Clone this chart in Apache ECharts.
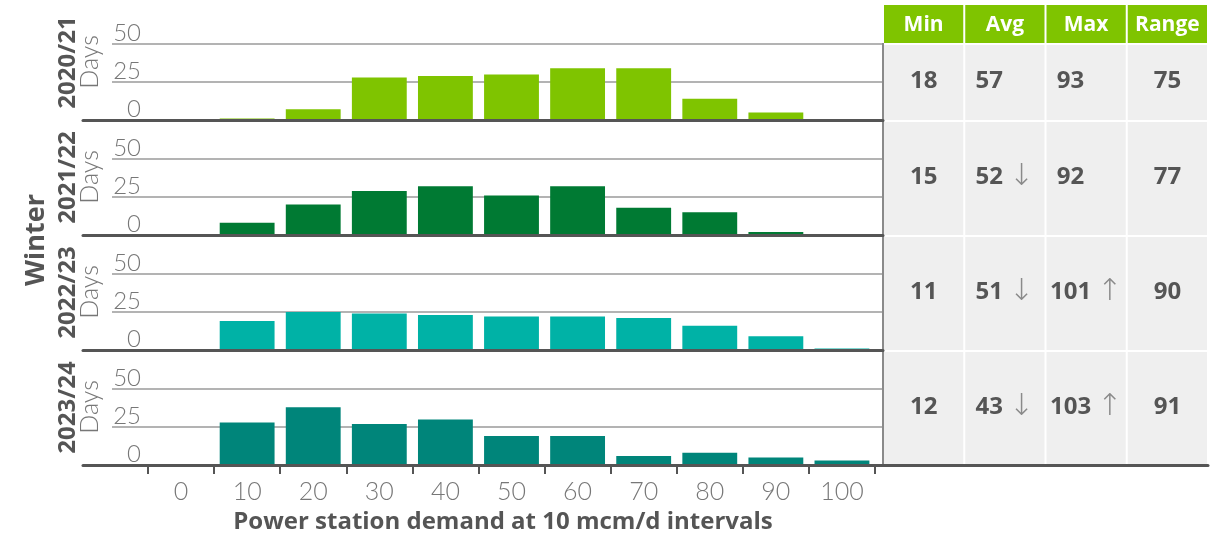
<!DOCTYPE html>
<html>
<head>
<meta charset="utf-8">
<script src="https://cdn.jsdelivr.net/npm/echarts@6/dist/echarts.min.js"></script>
<style>
  html, body { margin: 0; padding: 0; background: #ffffff; }
  #chart { width: 1222px; height: 536px; }
</style>
</head>
<body>
<div id="chart"></div>
<script>
// Demand bins (mcm/d, lower bound of each 10 mcm/d interval)
const bins = ['0', '10', '20', '30', '40', '50', '60', '70', '80', '90', '100'];
const seasons = ['2020/21', '2021/22', '2022/23', '2023/24'];

// Number of winter days falling in each demand bin
const days2020 = [0, 1, 7, 28, 29, 30, 34, 34, 14, 5, 0];
const days2021 = [0, 8, 20, 29, 32, 26, 32, 18, 15, 2, 0];
const days2022 = [0, 19, 25, 24, 23, 22, 22, 21, 16, 9, 1];
const days2023 = [0, 28, 38, 27, 30, 19, 19, 6, 8, 5, 3];
const seasonDays = [days2020, days2021, days2022, days2023];

// Summary statistics per winter (mcm/d)
const statHeaders = ['Min', 'Avg', 'Max', 'Range'];
const minVals = [18, 15, 11, 12];
const avgVals = [57, 52, 51, 43];
const maxVals = [93, 92, 101, 103];
const rangeVals = [75, 77, 90, 91];
const avgTrend = ['', 'down', 'down', 'down'];
const maxTrend = ['', '', 'up', 'up'];

const yTicks = [0, 25, 50];

const colors = ['#7fc400', '#007a33', '#00b2a6', '#00857a'];
const BOLD_FONT = '"Open Sans", Lato, sans-serif';
const LIGHT_FONT = 'Lato, "Open Sans", sans-serif';
const ARROW_FONT = '"DejaVu Sans", sans-serif';
const DARK = '#555555';
const MID = '#777777';

// Layout
const PANEL_TOP = 5;
const PANEL_H = 115;
const PLOT_H = 76;
const BAR_LEFT = 148, BAR_W = 727;
const GRIDLINE_LEFT = 112, PANEL_RIGHT = 883;
const AXIS_LEFT = 83;
const TABLE_LEFT = 883, TABLE_W = 325;
const HEADER_H = 38, GAP = 2;

const grids = [], xAxes = [], yAxes = [], series = [];

seasons.forEach((season, i) => {
  const base = PANEL_TOP + PANEL_H * (i + 1);
  const last = i === seasons.length - 1;
  const gA = grids.length;
  // bar area
  grids.push({ left: BAR_LEFT, width: BAR_W, top: base - PLOT_H, height: PLOT_H, outerBoundsMode: 'none' });
  // gridline area
  grids.push({ left: GRIDLINE_LEFT, width: PANEL_RIGHT - GRIDLINE_LEFT, top: base - PLOT_H, height: PLOT_H, outerBoundsMode: 'none' });
  // full panel (baseline + season label)
  grids.push({ left: AXIS_LEFT, width: (last ? TABLE_LEFT + TABLE_W : PANEL_RIGHT) - AXIS_LEFT, top: base - PANEL_H, height: PANEL_H, outerBoundsMode: 'none' });

  // bar axes
  xAxes.push({
    gridIndex: gA, type: 'category', data: bins, show: last,
    boundaryGap: true,
    axisLine: { show: true, lineStyle: { color: DARK, width: 3 } },
    axisTick: { show: true, length: 9, lineStyle: { color: DARK, width: 2 } },
    axisLabel: { show: true, fontSize: 25, color: MID, fontWeight: 300, fontFamily: LIGHT_FONT, margin: 14, lineHeight: 25 },
    name: last ? 'Power station demand at 10 mcm/d intervals' : '',
    nameLocation: 'middle', nameGap: 45,
    nameTextStyle: { fontSize: 24, fontWeight: 'bold', color: DARK, fontFamily: BOLD_FONT, lineHeight: 24, padding: [0, 17, 0, 0] }
  });
  yAxes.push({
    gridIndex: gA, type: 'value', min: 0, max: 50, interval: 25,
    axisLine: { show: false }, axisTick: { show: false }, splitLine: { show: false },
    axisLabel: {
      show: true, fontSize: 24, color: MID, fontWeight: 300, fontFamily: LIGHT_FONT,
      margin: 7, verticalAlign: 'bottom', lineHeight: 22,
      formatter: v => yTicks.indexOf(v) >= 0 ? String(v) : ''
    },
    name: 'Days', nameLocation: 'middle', nameRotate: 90, nameGap: 41,
    nameTextStyle: { fontSize: 25, color: MID, fontWeight: 300, fontFamily: LIGHT_FONT, lineHeight: 24, padding: [0, 0, 0, 40] }
  });

  // gridline axes
  xAxes.push({ gridIndex: gA + 1, type: 'value', show: false });
  yAxes.push({
    gridIndex: gA + 1, type: 'value', min: 0, max: 50, interval: 25,
    axisLine: { show: false }, axisTick: { show: false }, axisLabel: { show: false },
    splitLine: { show: true, lineStyle: { color: '#9a9a9a', width: 1.5 } }
  });

  // baseline + season label axes
  xAxes.push({
    gridIndex: gA + 2, type: 'value', show: true, z: 10,
    axisLine: { show: true, lineStyle: { color: DARK, width: 3 } },
    axisTick: { show: false }, axisLabel: { show: false }, splitLine: { show: false }
  });
  yAxes.push({
    gridIndex: gA + 2, type: 'value', show: true,
    axisLine: { show: false }, axisTick: { show: false }, axisLabel: { show: false }, splitLine: { show: false },
    name: season, nameLocation: 'middle', nameRotate: 90, nameGap: 3,
    nameTextStyle: { fontSize: 24, fontWeight: 'bold', color: DARK, fontFamily: BOLD_FONT, lineHeight: 23 }
  });

  series.push({
    type: 'bar', name: season, xAxisIndex: gA, yAxisIndex: gA,
    data: seasonDays[i], barCategoryGap: '17%',
    itemStyle: { color: colors[i] },
    silent: true, z: 3
  });
});

// Outer "Winter" label spanning all panels
const gW = grids.length;
grids.push({ left: AXIS_LEFT, width: PANEL_RIGHT - AXIS_LEFT, top: PANEL_TOP, height: PANEL_H * 4, outerBoundsMode: 'none' });
xAxes.push({ gridIndex: gW, type: 'value', show: false });
yAxes.push({
  gridIndex: gW, type: 'value', show: true,
  axisLine: { show: false }, axisTick: { show: false }, axisLabel: { show: false }, splitLine: { show: false },
  name: 'Winter', nameLocation: 'middle', nameRotate: 90, nameGap: 34,
  nameTextStyle: { fontSize: 27, fontWeight: 'bold', color: DARK, fontFamily: BOLD_FONT, lineHeight: 26, padding: [0, 10, 0, 0] }
});

// Statistics table
const gT = grids.length;
grids.push({ left: TABLE_LEFT, width: TABLE_W, top: PANEL_TOP, height: PANEL_H * 4, outerBoundsMode: 'none' });
xAxes.push({ gridIndex: gT, type: 'category', data: statHeaders, show: false });
yAxes.push({ gridIndex: gT, type: 'category', data: seasons, inverse: true, show: false });

const statCols = [minVals, avgVals, maxVals, rangeVals];
const trendCols = [null, avgTrend, maxTrend, null];
const cellData = [];
seasons.forEach((s, r) => {
  statHeaders.forEach((h, c) => {
    const t = trendCols[c] ? trendCols[c][r] : null;
    cellData.push({ value: [c, r, statCols[c][r]], trend: t });
  });
});

function cellBox(api, c, r) {
  const ctr = api.coord([c, r]);
  const sz = api.size([1, 1]);
  const left = ctr[0] - sz[0] / 2;
  const top = ctr[1] - sz[1] / 2;
  return { left, top, w: sz[0], h: sz[1] };
}

series.push({
  type: 'custom', name: 'stats', xAxisIndex: gT, yAxisIndex: gT, silent: true, z: 2,
  data: cellData,
  renderItem(params, api) {
    const c = api.value(0), r = api.value(1);
    const b = cellBox(api, c, r);
    const item = cellData[params.dataIndex];
    const y0 = b.top + (r === 0 ? HEADER_H + GAP : GAP);
    const y1 = b.top + b.h;
    const x0 = b.left + 1, x1 = b.left + b.w - 1;
    const children = [{
      type: 'rect', shape: { x: x0, y: y0, width: x1 - x0, height: y1 - y0 },
      style: { fill: '#efefef' }
    }];
    let text;
    if (c === 1 || c === 2) {
      const arrow = item.trend === 'down' ? '↓' : '↑';
      const key = item.trend ? 'a' : 'h';
      text = '{v|' + api.value(2) + '}{' + key + '|' + arrow + '}';
    } else {
      text = '{v|' + api.value(2) + '}';
    }
    children.push({
      type: 'text',
      style: {
        text, x: (x0 + x1) / 2, y: (y0 + y1) / 2 - 1, align: 'center', verticalAlign: 'middle',
        rich: {
          v: { fill: DARK, fontSize: 24, fontWeight: 'bold', fontFamily: BOLD_FONT },
          a: { fill: '#8a8a8a', fontSize: 30, fontWeight: 200, fontFamily: ARROW_FONT, padding: [0, 0, 0, 6] },
          h: { fill: 'rgba(0,0,0,0)', fontSize: 30, fontWeight: 200, fontFamily: ARROW_FONT, padding: [0, 0, 0, 6] }
        }
      }
    });
    if (c === 0) {
      children.push({
        type: 'line', shape: { x1: b.left, y1: y0 - GAP, x2: b.left, y2: y1 },
        style: { stroke: '#8a8a8a', lineWidth: 2 }
      });
    }
    return { type: 'group', children };
  }
});

// Header row of the table
series.push({
  type: 'custom', name: 'statHeader', xAxisIndex: gT, yAxisIndex: gT, silent: true, z: 3,
  data: statHeaders.map((h, c) => [c, 0]),
  renderItem(params, api) {
    const c = api.value(0);
    const b = cellBox(api, c, 0);
    const x0 = b.left + 1, x1 = b.left + b.w - 1;
    return {
      type: 'group',
      children: [
        { type: 'rect', shape: { x: x0, y: b.top, width: x1 - x0, height: HEADER_H }, style: { fill: colors[0] } },
        {
          type: 'text',
          style: {
            text: statHeaders[c], x: (x0 + x1) / 2, y: b.top + HEADER_H / 2 + 1,
            align: 'center', verticalAlign: 'middle',
            fill: '#ffffff', fontSize: 21, fontWeight: 'bold', fontFamily: BOLD_FONT
          }
        }
      ]
    };
  }
});

const chart = echarts.init(document.getElementById('chart'), null, { renderer: 'canvas' });
chart.setOption({
  animation: false,
  backgroundColor: '#ffffff',
  textStyle: { fontFamily: LIGHT_FONT },
  grid: grids,
  xAxis: xAxes,
  yAxis: yAxes,
  series
});
</script>
</body>
</html>
